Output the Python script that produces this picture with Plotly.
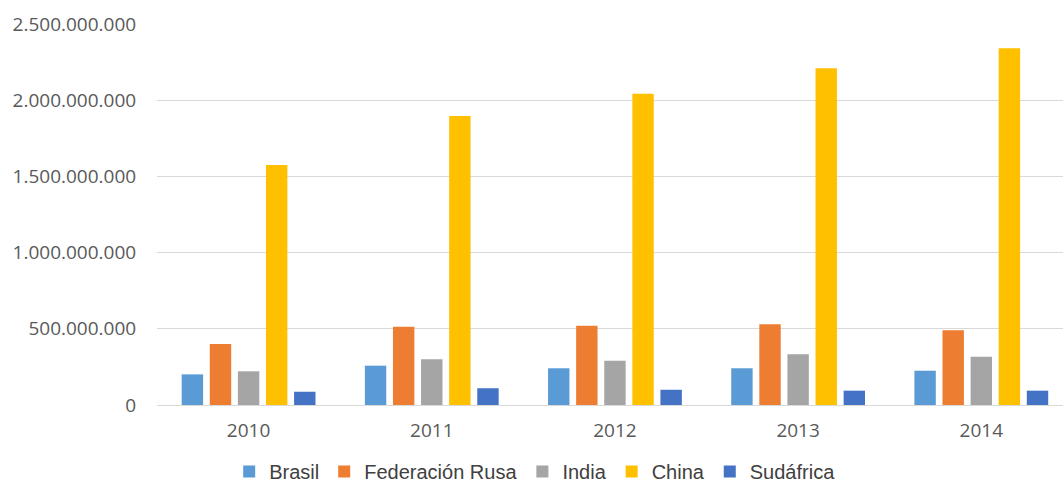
import plotly.graph_objects as go

years = ["2010", "2011", "2012", "2013", "2014"]
brasil = [201e6, 258e6, 241e6, 241e6, 225e6]
rusia = [400e6, 514e6, 520e6, 530e6, 490e6]
india = [221e6, 300e6, 291e6, 333e6, 317e6]
china = [1575e6, 1896e6, 2043e6, 2209e6, 2341e6]
sudafrica = [87e6, 110e6, 100e6, 94e6, 94e6]

series = [
    ("Brasil", brasil, "#5B9BD5"),
    ("Federación Rusa", rusia, "#ED7D31"),
    ("India", india, "#A5A5A5"),
    ("China", china, "#FFC000"),
    ("Sudáfrica", sudafrica, "#4472C4"),
]

fig = go.Figure()
for name, vals, col in series:
    fig.add_trace(go.Bar(x=years, y=vals, name=name, marker=dict(color=col, line=dict(width=0))))

fig.update_layout(
    width=1063, height=491,
    margin=dict(l=157, r=0, t=24, b=86),
    paper_bgcolor="white", plot_bgcolor="white",
    barmode="group", bargap=0.233, bargroupgap=0.238,
    separators=",.",
    showlegend=True,
    legend=dict(orientation="h", xref="container", yref="container",
                x=0.503, xanchor="center", y=-0.016, yanchor="bottom",
                font=dict(family="Liberation Sans, Arial, sans-serif", size=20, color="#404040"),
                itemwidth=30, traceorder="normal", borderwidth=0),
    font=dict(family="Open Sans, sans-serif", size=19, color="#595959"),
)
fig.update_xaxes(type="category", range=[-0.5, 4.446], showgrid=False,
                 showline=True, linecolor="#D9D9D9", linewidth=1,
                 ticks="outside", ticklen=8, tickcolor="rgba(0,0,0,0)",
                 tickfont=dict(family="Open Sans, sans-serif", size=19, color="#595959"))
fig.update_yaxes(range=[0, 2.5e9], dtick=5e8, tickformat=",d",
                 showgrid=True, gridcolor="#D9D9D9", gridwidth=1,
                 zeroline=False, showline=False,
                 ticks="outside", ticklen=16, tickcolor="rgba(0,0,0,0)",
                 tickfont=dict(family="Open Sans, sans-serif", size=19, color="#595959"))

fig.write_html("out.html")
